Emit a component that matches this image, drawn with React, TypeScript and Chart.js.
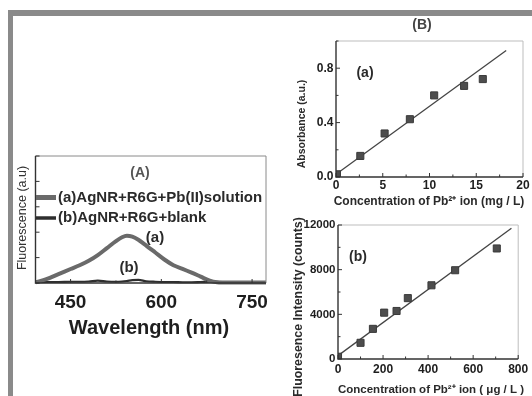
import React, { useEffect, useRef } from "react";
import { Chart, registerables } from "chart.js";

Chart.register(...registerables);

const FONT = "'Liberation Sans', Arial, Helvetica, sans-serif";

// ---------- Panel A: fluorescence spectra ----------
const wavelengths = [392, 410, 430, 450, 465, 480, 495, 510, 525, 535, 543, 552, 562, 575, 590, 605, 620, 635, 650, 665, 680, 692, 710, 740, 773];
const fluorPb = [0.5, 3, 7, 11, 14, 17.5, 22, 27.5, 33, 36, 37.2, 36.5, 34, 29.5, 24, 18.5, 14, 11.2, 8.2, 5, 1.8, 0.6, 0.3, 0.3, 0.3];
const fluorBlank = [0.6, 0.8, 0.8, 1, 1, 1.2, 1.8, 1.2, 1, 1.2, 1.6, 2.2, 2.4, 1.4, 1, 0.8, 0.8, 0.6, 0.6, 0.8, 1, 1, 0.6, 0.6, 0.6];
const seriesLabelsA = ["(a)AgNR+R6G+Pb(II)solution", "(b)AgNR+R6G+blank"];
const wavelengthTickLabels = [450, 600, 750];

// ---------- Panel B (a): absorbance ----------
const absConc = [0.1, 2.6, 5.2, 7.9, 10.5, 13.7, 15.7];
const absorbance = [0.02, 0.155, 0.32, 0.425, 0.6, 0.67, 0.72];
const absFitConc = [0, 18.2];
const absFitValue = [0.02, 0.93];

// ---------- Panel B (b): fluorescence intensity ----------
const fluConc = [0, 100, 155, 205, 260, 310, 415, 520, 705];
const fluIntensity = [200, 1450, 2700, 4150, 4300, 5450, 6600, 7950, 9900];
const fluFitConc = [0, 770];
const fluFitValue = [300, 11700];

type TextItem = {
  text: string;
  x: number;
  y: number;
  size: number;
  bold?: boolean;
  color?: string;
  rotate?: number;
  align?: CanvasTextAlign;
};

function textPlugin(items: TextItem[], legend?: { x1: number; x2: number; textX: number; ys: number[]; size: number }) {
  return {
    id: "texts",
    afterDraw(chart: any) {
      const ctx: CanvasRenderingContext2D = chart.ctx;
      if (legend) {
        chart.data.datasets.forEach((ds: any, i: number) => {
          const y = legend.ys[i];
          ctx.save();
          ctx.strokeStyle = ds.borderColor;
          ctx.lineWidth = i === 0 ? 5 : 3.5;
          ctx.beginPath();
          ctx.moveTo(legend.x1, y);
          ctx.lineTo(legend.x2, y);
          ctx.stroke();
          ctx.font = `bold ${legend.size}px ${FONT}`;
          ctx.fillStyle = "#2a2a2a";
          ctx.textAlign = "left";
          ctx.textBaseline = "middle";
          ctx.fillText(ds.label, legend.textX, y);
          ctx.restore();
        });
      }
      for (const it of items) {
        ctx.save();
        ctx.font = `${it.bold ? "bold " : ""}${it.size}px ${FONT}`;
        ctx.fillStyle = it.color || "#222";
        ctx.textAlign = it.align || "center";
        ctx.textBaseline = "middle";
        ctx.translate(it.x, it.y);
        if (it.rotate) ctx.rotate(it.rotate);
        ctx.fillText(it.text, 0, 0);
        ctx.restore();
      }
    },
  };
}

function framePlugin(light: string, dark: string) {
  return {
    id: "frameTicks",
    afterDatasetsDraw(chart: any) {
      const ctx: CanvasRenderingContext2D = chart.ctx;
      const a = chart.chartArea;
      ctx.save();
      ctx.strokeStyle = light;
      ctx.lineWidth = 1;
      ctx.beginPath();
      ctx.moveTo(a.left, a.top);
      ctx.lineTo(a.right, a.top);
      ctx.lineTo(a.right, a.bottom);
      ctx.stroke();
      ctx.strokeStyle = dark;
      ctx.lineWidth = 1.4;
      ctx.beginPath();
      ctx.moveTo(a.left, a.top);
      ctx.lineTo(a.left, a.bottom);
      ctx.lineTo(a.right, a.bottom);
      ctx.stroke();
      const xs = chart.scales.x;
      const ys = chart.scales.y;
      ctx.lineWidth = 1;
      ctx.beginPath();
      xs.ticks.forEach((t: any) => {
        const p = xs.getPixelForValue(t.value);
        const len = t.label ? 4 : 2.5;
        ctx.moveTo(p, a.bottom);
        ctx.lineTo(p, a.bottom - len);
      });
      ys.ticks.forEach((t: any) => {
        const p = ys.getPixelForValue(t.value);
        const len = t.label ? 4 : 2.5;
        ctx.moveTo(a.left, p);
        ctx.lineTo(a.left + len, p);
      });
      ctx.stroke();
      ctx.restore();
    },
  };
}

const tickFont = (size: number) => ({ family: FONT, size, weight: "bold" as const });
const noGrid = { display: false, drawTicks: false };

function PanelA() {
  const ref = useRef<HTMLCanvasElement>(null);
  useEffect(() => {
    const chart = new Chart(ref.current!, {
      type: "line",
      data: {
        datasets: [
          {
            label: seriesLabelsA[0],
            data: wavelengths.map((w, i) => ({ x: w, y: fluorPb[i] })),
            borderColor: "#6a6a6a",
            borderWidth: 4,
            pointRadius: 0,
            cubicInterpolationMode: "monotone",
            clip: 6,
          },
          {
            label: seriesLabelsA[1],
            data: wavelengths.map((w, i) => ({ x: w, y: fluorBlank[i] })),
            borderColor: "#2e2e2e",
            borderWidth: 2.2,
            pointRadius: 0,
            cubicInterpolationMode: "monotone",
            clip: 6,
          },
        ],
      },
      options: {
        responsive: false,
        animation: false,
        devicePixelRatio: 1,
        layout: { padding: { left: 0, top: 16, right: 20, bottom: 0 } },
        plugins: { legend: { display: false }, tooltip: { enabled: false } },
        scales: {
          x: {
            type: "linear",
            min: 392,
            max: 773,
            grid: noGrid,
            border: { display: false },
            ticks: {
              stepSize: 75,
              includeBounds: false,
              autoSkip: false,
              maxRotation: 0,
              padding: 8.6,
              color: "#1e1e1e",
              font: tickFont(19),
              callback: (v: any) => (wavelengthTickLabels.includes(Number(v)) ? String(v) : ""),
            },
            afterFit: (s: any) => {
              s.height = 57;
            },
          },
          y: {
            min: 0,
            max: 100,
            grid: noGrid,
            border: { display: false },
            ticks: { display: false, stepSize: 20 },
            afterFit: (s: any) => {
              s.width = 21.5;
            },
          },
        },
      },
      plugins: [
        framePlugin("#8a8a8a", "#333"),
        textPlugin(
          [
            { text: "Fluorescence (a.u)", x: 9, y: 78, size: 12.5, color: "#333", rotate: -Math.PI / 2 },
            { text: "(A)", x: 126, y: 33, size: 14, bold: true, color: "#555" },
            { text: "(a)", x: 141, y: 98, size: 15, bold: true, color: "#2a2a2a" },
            { text: "(b)", x: 115, y: 128, size: 15, bold: true, color: "#2a2a2a" },
            { text: "Wavelength (nm)", x: 135, y: 188, size: 20, bold: true, color: "#1e1e1e" },
          ],
          { x1: 22, x2: 42, textX: 44, ys: [57.5, 78], size: 15 }
        ),
      ],
    } as any);
    return () => chart.destroy();
  }, []);
  return <canvas ref={ref} width={272} height={200} style={{ position: "absolute", left: 14, top: 140 }} />;
}

function PanelBTop() {
  const ref = useRef<HTMLCanvasElement>(null);
  useEffect(() => {
    const chart = new Chart(ref.current!, {
      type: "scatter",
      data: {
        datasets: [
          {
            data: absConc.map((c, i) => ({ x: c, y: absorbance[i] })),
            pointStyle: "rect",
            pointRadius: 5,
            backgroundColor: "#4d4d4d",
            borderColor: "#3a3a3a",
            borderWidth: 1,
          },
          {
            data: absFitConc.map((c, i) => ({ x: c, y: absFitValue[i] })),
            showLine: true,
            pointRadius: 0,
            borderColor: "#444",
            borderWidth: 1.3,
          },
        ],
      },
      options: {
        responsive: false,
        animation: false,
        devicePixelRatio: 1,
        layout: { padding: { left: 0, top: 25, right: 9, bottom: 0 } },
        plugins: { legend: { display: false }, tooltip: { enabled: false } },
        scales: {
          x: {
            type: "linear",
            min: 0,
            max: 20,
            grid: noGrid,
            border: { display: false },
            ticks: {
              stepSize: 2.5,
              autoSkip: false,
              maxRotation: 0,
              padding: 1.5,
              color: "#1e1e1e",
              font: tickFont(12),
              callback: (v: any) => (Number(v) % 5 === 0 ? String(v) : ""),
            },
            afterFit: (s: any) => {
              s.height = 33;
            },
          },
          y: {
            min: 0,
            max: 1,
            grid: noGrid,
            border: { display: false },
            ticks: {
              stepSize: 0.2,
              autoSkip: false,
              padding: 2.5,
              color: "#1e1e1e",
              font: tickFont(12),
              callback: (v: any) => {
                const r = Number(v) / 0.4;
                return Math.abs(r - Math.round(r)) < 1e-6 ? Number(v).toFixed(1) : "";
              },
            },
            afterFit: (s: any) => {
              s.width = 60;
            },
          },
        },
      },
      plugins: [
        framePlugin("#bdbdbd", "#333"),
        textPlugin([
          { text: "(B)", x: 146, y: 9, size: 14, bold: true, color: "#444" },
          { text: "(a)", x: 89, y: 57, size: 14, bold: true, color: "#2a2a2a" },
          { text: "Absorbance (a.u.)", x: 26, y: 108, size: 10.5, bold: true, color: "#2a2a2a", rotate: -Math.PI / 2 },
          { text: "Concentration of Pb²⁺ ion (mg / L)", x: 153, y: 185.7, size: 12, bold: true, color: "#2a2a2a" },
        ]),
      ],
    } as any);
    return () => chart.destroy();
  }, []);
  return <canvas ref={ref} width={256} height={194} style={{ position: "absolute", left: 276, top: 16 }} />;
}

function PanelBBottom() {
  const ref = useRef<HTMLCanvasElement>(null);
  useEffect(() => {
    const chart = new Chart(ref.current!, {
      type: "scatter",
      data: {
        datasets: [
          {
            data: fluConc.map((c, i) => ({ x: c, y: fluIntensity[i] })),
            pointStyle: "rect",
            pointRadius: 5,
            backgroundColor: "#4d4d4d",
            borderColor: "#3a3a3a",
            borderWidth: 1,
          },
          {
            data: fluFitConc.map((c, i) => ({ x: c, y: fluFitValue[i] })),
            showLine: true,
            pointRadius: 0,
            borderColor: "#444",
            borderWidth: 1.3,
          },
        ],
      },
      options: {
        responsive: false,
        animation: false,
        devicePixelRatio: 1,
        layout: { padding: { left: 0, top: 13, right: 9, bottom: 0 } },
        plugins: { legend: { display: false }, tooltip: { enabled: false } },
        scales: {
          x: {
            type: "linear",
            min: 0,
            max: 800,
            grid: noGrid,
            border: { display: false },
            ticks: {
              stepSize: 100,
              autoSkip: false,
              maxRotation: 0,
              padding: 3.8,
              color: "#1e1e1e",
              font: tickFont(12),
              callback: (v: any) => (Number(v) % 200 === 0 ? String(v) : ""),
            },
            afterFit: (s: any) => {
              s.height = 37;
            },
          },
          y: {
            min: 0,
            max: 12000,
            grid: noGrid,
            border: { display: false },
            ticks: {
              stepSize: 2000,
              autoSkip: false,
              padding: 2.5,
              color: "#1e1e1e",
              font: tickFont(11.5),
              callback: (v: any) => (Number(v) % 4000 === 0 ? String(v) : ""),
            },
            afterFit: (s: any) => {
              s.width = 62;
            },
          },
        },
      },
      plugins: [
        framePlugin("#bdbdbd", "#333"),
        textPlugin([
          { text: "(b)", x: 82, y: 44.7, size: 14, bold: true, color: "#2a2a2a" },
          { text: "Fluoresence Intensity (counts)", x: 23, y: 95, size: 12.4, bold: true, color: "#2a2a2a", rotate: -Math.PI / 2 },
          { text: "Concentration of Pb²⁺ ion ( μg / L )", x: 155, y: 177.5, size: 11.5, bold: true, color: "#2a2a2a" },
        ]),
      ],
    } as any);
    return () => chart.destroy();
  }, []);
  return <canvas ref={ref} width={256} height={184} style={{ position: "absolute", left: 276, top: 212 }} />;
}

export default function App() {
  return (
    <div
      style={{
        position: "fixed",
        left: 0,
        top: 0,
        width: 532,
        height: 396,
        background: "#ffffff",
        overflow: "hidden",
      }}
    >
      <div style={{ position: "absolute", left: 8, top: 10, width: 524, height: 6, background: "#8a8a8a" }} />
      <div style={{ position: "absolute", left: 8, top: 10, width: 5, height: 386, background: "#8a8a8a" }} />
      <PanelA />
      <PanelBTop />
      <PanelBBottom />
    </div>
  );
}
